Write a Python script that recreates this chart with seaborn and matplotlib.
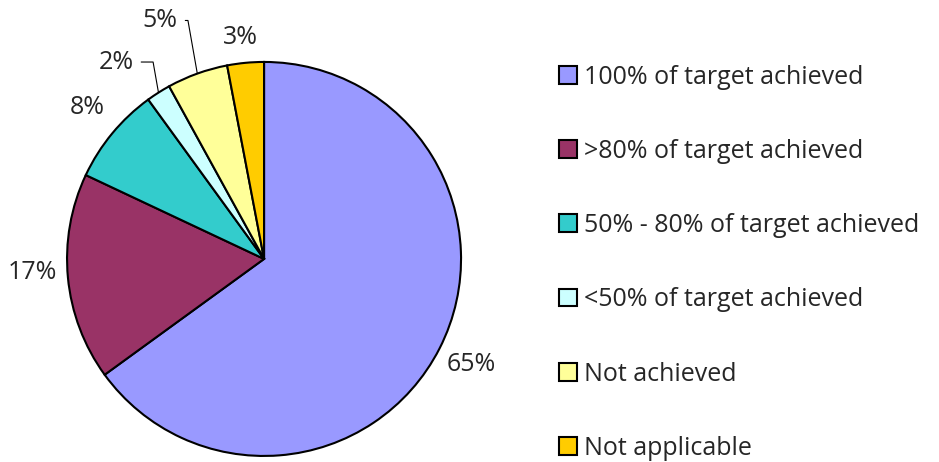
import numpy as np
import matplotlib
matplotlib.use("Agg")
import matplotlib.pyplot as plt
import seaborn as sns

categories = ["100% of target achieved", ">80% of target achieved",
              "50% - 80% of target achieved", "<50% of target achieved",
              "Not achieved", "Not applicable"]
values = [65, 17, 8, 2, 5, 3]
colors = ["#9999FF", "#993366", "#33CCCC", "#CCFFFF", "#FFFF99", "#FFCC00"]

sns.set_style("white")
plt.rcParams["font.family"] = ["Open Sans", "DejaVu Sans"]

fig = plt.figure(figsize=(9.39, 4.62), dpi=100)
ax = fig.add_axes([0.0714, 0.013, 0.4196, 0.853])

wedges, _ = ax.pie(values, colors=colors, startangle=90, counterclock=False,
                   wedgeprops=dict(edgecolor="black", linewidth=1.5))
ax.set_xlim(-1, 1)
ax.set_ylim(-1, 1)
ax.set_aspect("equal")

# label placement: (radius factor, angle shift in degrees, leader line?)
label_style = [(1.18, 0, False), (1.18, -2, False), (1.18, -1, False),
               (1.25, 4.5, True), (1.32, 3.7, True), (1.13, 0.7, False)]
fs = 18
for w, v, (r, shift, leader) in zip(wedges, values, label_style):
    mid = np.deg2rad((w.theta1 + w.theta2) / 2)
    ang = mid + np.deg2rad(shift)
    tx, ty = r * np.cos(ang), r * np.sin(ang)
    if leader:
        ex, ey = np.cos(mid), np.sin(mid)
        ax.annotate(f"{v}%", xy=(ex, ey), xytext=(tx, ty), fontsize=fs,
                    ha="center", va="center", annotation_clip=False,
                    arrowprops=dict(arrowstyle="-", color="black", lw=0.8,
                                    shrinkA=3, shrinkB=0,
                                    connectionstyle="angle,angleA=0,angleB=100,rad=0"))
    else:
        ax.text(tx, ty, f"{v}%", fontsize=fs, ha="center", va="center")

handles = [plt.Rectangle((0, 0), 1, 1, facecolor=c, edgecolor="black", linewidth=1.5)
           for c in colors]
fig.legend(handles, categories, loc="upper left", bbox_to_anchor=(0.585, 0.882),
           frameon=False, fontsize=fs, handlelength=0.72, handleheight=0.72,
           handletextpad=0.25, labelspacing=1.97, borderaxespad=0)

fig.savefig("out.png", dpi=100)
